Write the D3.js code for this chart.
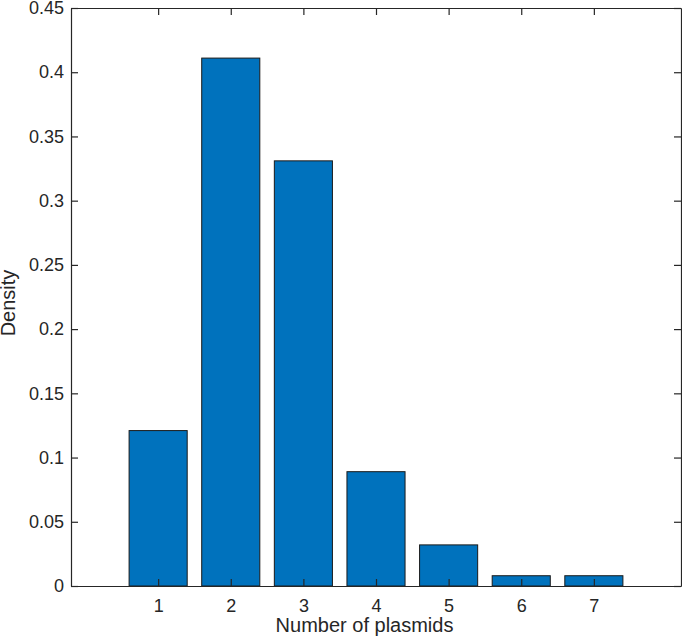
<!DOCTYPE html>
<html>
<head>
<meta charset="utf-8">
<script src="https://cdn.jsdelivr.net/npm/d3@7"></script>
<style>
  html, body { margin: 0; padding: 0; background: #fff; }
  svg { display: block; font-family: "Liberation Sans", Arial, Helvetica, sans-serif; }
</style>
</head>
<body>
<svg id="chart" width="682" height="640"></svg>
<script>
const categories = [1, 2, 3, 4, 5, 6, 7];
const densities = [0.121, 0.411, 0.331, 0.089, 0.032, 0.008, 0.008];
const yTicks = [0, 0.05, 0.1, 0.15, 0.2, 0.25, 0.3, 0.35, 0.4, 0.45];
const yTickLabels = ["0", "0.05", "0.1", "0.15", "0.2", "0.25", "0.3", "0.35", "0.4", "0.45"];
const xLabel = "Number of plasmids";
const yLabel = "Density";

(function () {
const svg = d3.select("#chart");
const pLeft = 71, pRight = 681, pTop = 8, pBottom = 586;
const axisColor = "#262626";

const x = d3.scaleLinear().domain([-0.2, 8.2]).range([pLeft, pRight]);
const y = d3.scaleLinear().domain([0, 0.45]).range([pBottom, pTop]);
const barW = x(0.8) - x(0);

// bars
svg.append("g").selectAll("rect").data(categories).join("rect")
  .attr("x", (d) => x(d) - barW / 2)
  .attr("y", (d, i) => y(densities[i]))
  .attr("width", barW)
  .attr("height", (d, i) => y(0) - y(densities[i]))
  .attr("fill", "#0072BD")
  .attr("stroke", "#1a1a1a")
  .attr("stroke-width", 1);

// axes
const tickLen = 7;
const xAxisB = d3.axisBottom(x).tickValues(categories).tickSizeInner(-tickLen).tickSizeOuter(0).tickPadding(13).tickFormat(d3.format("d"));
const xAxisT = d3.axisTop(x).tickValues(categories).tickSizeInner(-tickLen).tickSizeOuter(0).tickFormat("");
const yAxisL = d3.axisLeft(y).tickValues(yTicks).tickSizeInner(-tickLen).tickSizeOuter(0).tickPadding(7).tickFormat((d, i) => yTickLabels[i]);
const yAxisR = d3.axisRight(y).tickValues(yTicks).tickSizeInner(-tickLen).tickSizeOuter(0).tickFormat("");

function style(g) {
  g.selectAll("path.domain").attr("stroke", axisColor).attr("stroke-width", 1.2);
  g.selectAll(".tick line").attr("stroke", axisColor).attr("stroke-width", 1.2);
  g.selectAll(".tick text").attr("fill", "#262626").style("font-size", "18px").style("font-family", "'Liberation Sans', Arial, sans-serif");
}

svg.append("g").attr("transform", `translate(0,${pBottom})`).call(xAxisB).call(style);
svg.append("g").attr("transform", `translate(0,${pTop})`).call(xAxisT).call(style);
svg.append("g").attr("transform", `translate(${pLeft},0)`).call(yAxisL).call(style);
svg.append("g").attr("transform", `translate(${pRight},0)`).call(yAxisR).call(style);

// labels
svg.append("text")
  .attr("x", 364.5).attr("y", 632)
  .attr("text-anchor", "middle")
  .attr("fill", "#262626")
  .style("font-size", "20px")
  .text(xLabel);

svg.append("text")
  .attr("transform", `translate(15,303) rotate(-90)`)
  .attr("text-anchor", "middle")
  .attr("fill", "#262626")
  .style("font-size", "20px")
  .text(yLabel);
})();
</script>
</body>
</html>
